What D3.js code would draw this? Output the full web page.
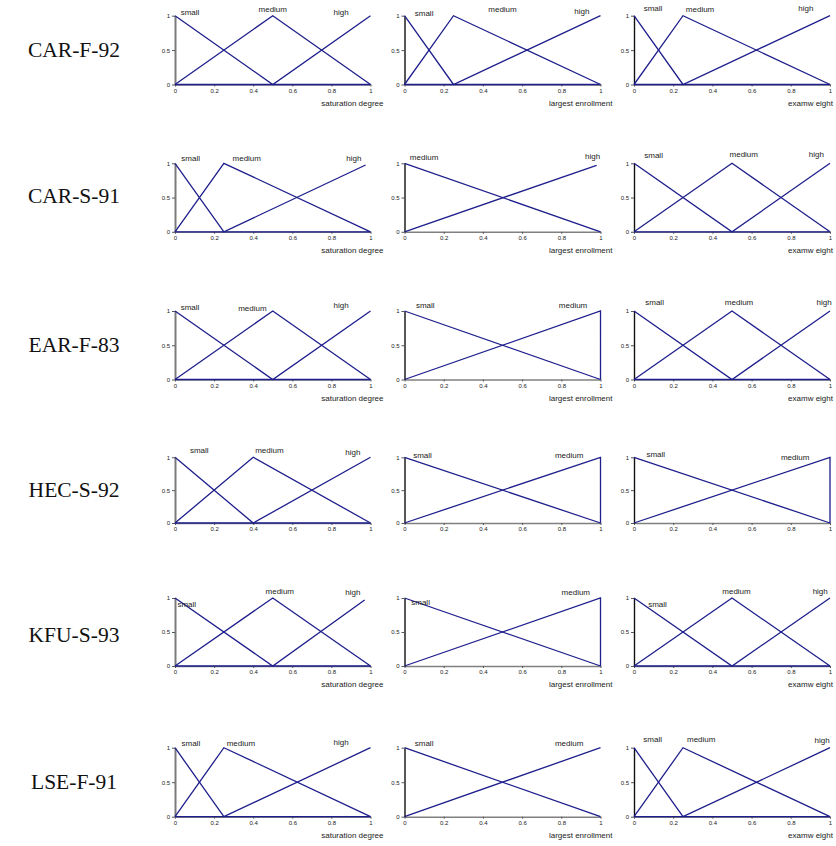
<!DOCTYPE html>
<html><head><meta charset="utf-8">
<script src="https://cdn.jsdelivr.net/npm/d3@7"></script>
<style>
html,body{margin:0;padding:0;background:#fff;}
svg{display:block;}
</style>
</head><body>
<svg id="chart" width="836" height="846"></svg>
<script>
// ---------- data ----------
const datasets = ["CAR-F-92","CAR-S-91","EAR-F-83","HEC-S-92","KFU-S-93","LSE-F-91"];
const variables = ["saturation degree","largest enrollment","examw eight"];
const xTicks = [0,0.2,0.4,0.6,0.8,1];
const yTicks = [0,0.5,1];

// membership functions: [name, [[x,y],...]] per dataset (row) and variable (column)
const memberships = [
  [ // CAR-F-92
    [["small",[[0,1],[0.5,0],[1,0]]],["medium",[[0,0],[0.5,1],[1,0]]],["high",[[0,0],[0.5,0],[1,1]]]],
    [["small",[[0,1],[0.25,0],[1,0]]],["medium",[[0,0],[0.25,1],[1,0]]],["high",[[0,0],[0.25,0],[1,1]]]],
    [["small",[[0,1],[0.25,0],[1,0]]],["medium",[[0,0],[0.25,1],[1,0]]],["high",[[0,0],[0.25,0],[1,1]]]]
  ],
  [ // CAR-S-91
    [["small",[[0,1],[0.25,0],[1,0]]],["medium",[[0,0],[0.25,1],[1,0]]],["high",[[0,0],[0.25,0],[0.975,0.975]]]],
    [["medium",[[0,1],[1,0]]],["high",[[0,0],[0.98,0.97]]]],
    [["small",[[0,1],[0.5,0],[1,0]]],["medium",[[0,0],[0.5,1],[1,0]]],["high",[[0,0],[0.5,0],[1,1]]]]
  ],
  [ // EAR-F-83
    [["small",[[0,1],[0.5,0],[1,0]]],["medium",[[0,0],[0.5,1],[1,0]]],["high",[[0,0],[0.5,0],[1,1]]]],
    [["small",[[0,1],[1,0]]],["medium",[[0,0],[1,1],[1,0]]]],
    [["small",[[0,1],[0.5,0],[1,0]]],["medium",[[0,0],[0.5,1],[1,0]]],["high",[[0,0],[0.5,0],[1,1]]]]
  ],
  [ // HEC-S-92
    [["small",[[0,1],[0.4,0],[1,0]]],["medium",[[0,0],[0.4,1],[1,0]]],["high",[[0,0],[0.4,0],[1,1]]]],
    [["small",[[0,1],[1,0]]],["medium",[[0,0],[1,1],[1,0]]]],
    [["small",[[0,1],[1,0]]],["medium",[[0,0],[1,1],[1,0]]]]
  ],
  [ // KFU-S-93
    [["small",[[0,1],[0.5,0],[1,0]]],["medium",[[0,0],[0.5,1],[1,0]]],["high",[[0,0],[0.5,0],[0.97,0.97]]]],
    [["small",[[0,1],[1,0]]],["medium",[[0,0],[1,1],[1,0]]]],
    [["small",[[0,1],[0.5,0],[1,0]]],["medium",[[0,0],[0.5,1],[1,0]]],["high",[[0,0],[0.5,0],[1,1]]]]
  ],
  [ // LSE-F-91
    [["small",[[0,1],[0.25,0],[1,0]]],["medium",[[0,0],[0.25,1],[1,0]]],["high",[[0,0],[0.25,0],[1,1]]]],
    [["small",[[0,1],[1,0]]],["medium",[[0,0],[1,1]]]],
    [["small",[[0,1],[0.25,0],[1,0]]],["medium",[[0,0],[0.25,1],[1,0]]],["high",[[0,0],[0.25,0],[1,1]]]]
  ]
];

// ---------- layout (label placement: x in data units, baseline offset in px from plot top) ----------
const labelX = [
  [[0.077,0.50,0.85],[0.10,0.50,0.905],[0.097,0.337,0.877]],
  [[0.08,0.367,0.915],[0.10,0.96],[0.10,0.56,0.93]],
  [[0.077,0.396,0.85],[0.106,0.86],[0.105,0.536,0.97]],
  [[0.124,0.483,0.91],[0.092,0.84],[0.111,0.822]],
  [[0.06,0.536,0.91],[0.082,0.874],[0.12,0.523,0.95]],
  [[0.081,0.337,0.85],[0.10,0.84],[0.095,0.343,0.96]]
];
const labelDy = [
  [[-1,-3.4,-1],[0.6,-3.7,-2],[-4.4,-3.4,-5]],
  [[-2,-2,-2],[-3.6,-4],[-5,-6,-6]],
  [[-1.3,-0.3,-3],[-3,-3],[-5.7,-5.7,-5.7]],
  [[-4.3,-4.3,-2.6],[0.7,0.7],[-0.3,3]],
  [[9,-4,-3],[7,-3],[9,-4,-4]],
  [[-1.4,-1.4,-2.4],[-2,-2],[-5.3,-5.3,-5]]
];
const rowTop = [15.7,163.3,311,457.3,598,747.7];
const rowBottom = [84.5,231.8,379.5,523,666,816.7];
const colLeft = [175,404.5,634];
const colRight = [370.5,600.5,830];
const titleEndOffset = [13,12,3];
const rowLabelY = [57,203,352,497,642,789];
const showTitle = [true,true,true,false,true,true];

const lineColor = "#1e1e8c";
const svg = d3.select("#chart");

datasets.forEach((ds, r) => {
  svg.append("text")
    .attr("x", 74).attr("y", rowLabelY[r])
    .attr("text-anchor","middle")
    .attr("font-family","'Liberation Serif','Times New Roman',serif")
    .attr("font-size", 21.5)
    .attr("fill","#111")
    .text(ds);

  variables.forEach((v, c) => {
    const x = d3.scaleLinear().domain([0,1]).range([colLeft[c], colRight[c]]);
    const y = d3.scaleLinear().domain([0,1]).range([rowBottom[r], rowTop[r]]);
    const g = svg.append("g");

    const ax = g.append("g").attr("transform", `translate(0,${rowBottom[r]})`)
      .call(d3.axisBottom(x).tickValues(xTicks).tickSize(2).tickSizeOuter(0).tickPadding(2).tickFormat(d3.format("~g")));
    ax.select(".domain").attr("stroke","#808080").attr("stroke-width",1.6);
    ax.selectAll(".tick line").attr("stroke","#555");
    ax.selectAll("text").attr("font-family","'Liberation Sans',Arial,sans-serif").attr("font-size",6).attr("fill","#222");

    const ay = g.append("g").attr("transform", `translate(${colLeft[c]},0)`)
      .call(d3.axisLeft(y).tickValues(yTicks).tickSize(3).tickSizeOuter(0).tickPadding(2).tickFormat(d3.format("~g")));
    ay.select(".domain").attr("stroke", c===0 ? "#7a7a7a" : "#111").attr("stroke-width", c===0 ? 2 : 1.4);
    ay.selectAll(".tick line").attr("stroke","#555");
    ay.selectAll("text").attr("font-family","'Liberation Sans',Arial,sans-serif").attr("font-size",6).attr("fill","#222");

    const line = d3.line().x(d => x(d[0])).y(d => y(d[1]));
    const series = memberships[r][c];
    g.selectAll("path.mf").data(series).join("path")
      .attr("class","mf")
      .attr("d", d => line(d[1]))
      .attr("fill","none")
      .attr("stroke", lineColor)
      .attr("stroke-width", 1.3);

    g.selectAll("text.lbl").data(series).join("text")
      .attr("class","lbl")
      .attr("x", (d,i) => x(labelX[r][c][i]))
      .attr("y", (d,i) => rowTop[r] + labelDy[r][c][i])
      .attr("text-anchor","middle")
      .attr("font-family","'Liberation Sans',Arial,sans-serif")
      .attr("font-size", 8)
      .attr("fill","#222")
      .text(d => d[0]);

    if (showTitle[r]) {
      g.append("text")
        .attr("x", colRight[c] + titleEndOffset[c])
        .attr("y", rowBottom[r] + 21)
        .attr("text-anchor","end")
        .attr("font-family","'Liberation Sans',Arial,sans-serif")
        .attr("font-size", 8)
        .attr("fill","#222")
        .text(v);
    }
  });
});
</script>
</body></html>
